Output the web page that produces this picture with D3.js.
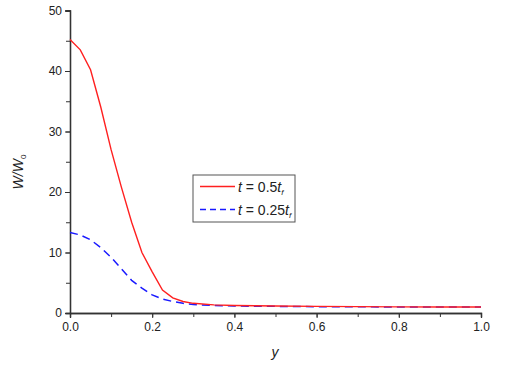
<!DOCTYPE html>
<html>
<head>
<meta charset="utf-8">
<script src="https://cdn.jsdelivr.net/npm/d3@7"></script>
<style>
  body { margin: 0; background: #fff; }
  text { font-family: "Liberation Sans", Arial, sans-serif; }
</style>
</head>
<body>
<div id="chart"></div>
<script>
// y positions (x axis)
var yPos = [0, 0.025, 0.05, 0.075, 0.1, 0.125, 0.15, 0.175, 0.2, 0.225, 0.25, 0.275, 0.3, 0.35, 0.4, 0.5, 0.6, 0.7, 0.8, 0.9, 1.0];
// W/W0 for t = 0.5 tf
var half = [45.2, 43.5, 40.2, 34.0, 27.0, 20.8, 15.0, 10.0, 6.8, 3.8, 2.5, 1.9, 1.6, 1.35, 1.25, 1.15, 1.1, 1.05, 1.02, 1.0, 1.0];
// W/W0 for t = 0.25 tf
var quarter = [13.3, 12.9, 12.1, 10.8, 9.2, 7.3, 5.4, 4.1, 3.0, 2.3, 1.9, 1.6, 1.4, 1.25, 1.15, 1.1, 1.05, 1.02, 1.0, 1.0, 1.0];
var xTicks = [0, 0.2, 0.4, 0.6, 0.8, 1.0];
var yTicks = [0, 10, 20, 30, 40, 50];

var W = 506, H = 366;
var margin = {left: 70, top: 10.5, right: 25, bottom: 53};
var axisColor = "#333";

var svg = d3.select("#chart").append("svg")
    .attr("width", W).attr("height", H);

var x = d3.scaleLinear().domain([0, 1]).range([margin.left, 481]);
var y = d3.scaleLinear().domain([0, 50]).range([313, margin.top]);

// minor ticks
var gx = svg.append("g").attr("transform", "translate(0,313)");
gx.call(d3.axisBottom(x).tickValues(d3.range(0, 1.01, 0.1)).tickSize(4).tickFormat(""));
gx.append("g").call(d3.axisBottom(x).tickValues(xTicks).tickSize(5).tickPadding(4)
    .tickFormat(d3.format(".1f")));
gx.selectAll("path.domain").attr("stroke", axisColor).attr("stroke-width", 1.3);
gx.selectAll("line").attr("stroke", axisColor);
gx.selectAll("text").attr("font-size", 12).attr("fill", "#222");

var gy = svg.append("g").attr("transform", "translate(70,0)");
gy.call(d3.axisLeft(y).tickValues(d3.range(0, 51, 5)).tickSize(4).tickFormat(""));
gy.append("g").call(d3.axisLeft(y).tickValues(yTicks).tickSize(5).tickPadding(3)
    .tickFormat(d3.format("d")));
gy.selectAll("path.domain").attr("stroke", axisColor).attr("stroke-width", 1.3);
gy.selectAll("line").attr("stroke", axisColor);
gy.selectAll("text").attr("font-size", 12).attr("fill", "#222");

// lines
var line = function(vals) {
    return d3.line()
        .x(function(d, i) { return x(yPos[i]); })
        .y(function(d) { return y(d); })(vals);
};

svg.append("path").attr("d", line(quarter))
    .attr("fill", "none").attr("stroke", "#1a1aff").attr("stroke-width", 1.5)
    .attr("stroke-dasharray", "8,5");
svg.append("path").attr("d", line(half))
    .attr("fill", "none").attr("stroke", "#ff2020").attr("stroke-width", 1.4);

// axis titles
var yl = svg.append("text")
    .attr("transform", "translate(23,172) rotate(-90)")
    .attr("text-anchor", "middle")
    .attr("font-size", 14).attr("font-style", "italic").attr("fill", "#222");
yl.append("tspan").text("W/W");
yl.append("tspan").text("0").attr("font-size", 8).attr("font-style", "normal").attr("dy", 3);

svg.append("text").attr("x", 275).attr("y", 357)
    .attr("text-anchor", "middle").attr("font-size", 14).attr("font-style", "italic")
    .attr("fill", "#222").text("y");

// legend
var legend = svg.append("g").attr("transform", "translate(193,175)");
legend.append("rect").attr("width", 102).attr("height", 47)
    .attr("fill", "#fff").attr("stroke", "#555").attr("stroke-width", 1);

var entries = [
    {val: "0.5", color: "#ff2020", dash: null},
    {val: "0.25", color: "#1a1aff", dash: "6,4"}
];
entries.forEach(function(e, i) {
    var yy = 11.5 + i * 23;
    legend.append("line").attr("x1", 7).attr("x2", 42).attr("y1", yy).attr("y2", yy)
        .attr("stroke", e.color).attr("stroke-width", 1.6)
        .attr("stroke-dasharray", e.dash);
    var t = legend.append("text").attr("x", 45).attr("y", yy + 5)
        .attr("font-size", 14).attr("fill", "#222");
    t.append("tspan").text("t").attr("font-style", "italic");
    t.append("tspan").text(" = " + e.val);
    t.append("tspan").text("t").attr("font-style", "italic");
    t.append("tspan").text("f").attr("font-size", 8).attr("font-style", "italic").attr("dy", 3);
});
</script>
</body>
</html>
